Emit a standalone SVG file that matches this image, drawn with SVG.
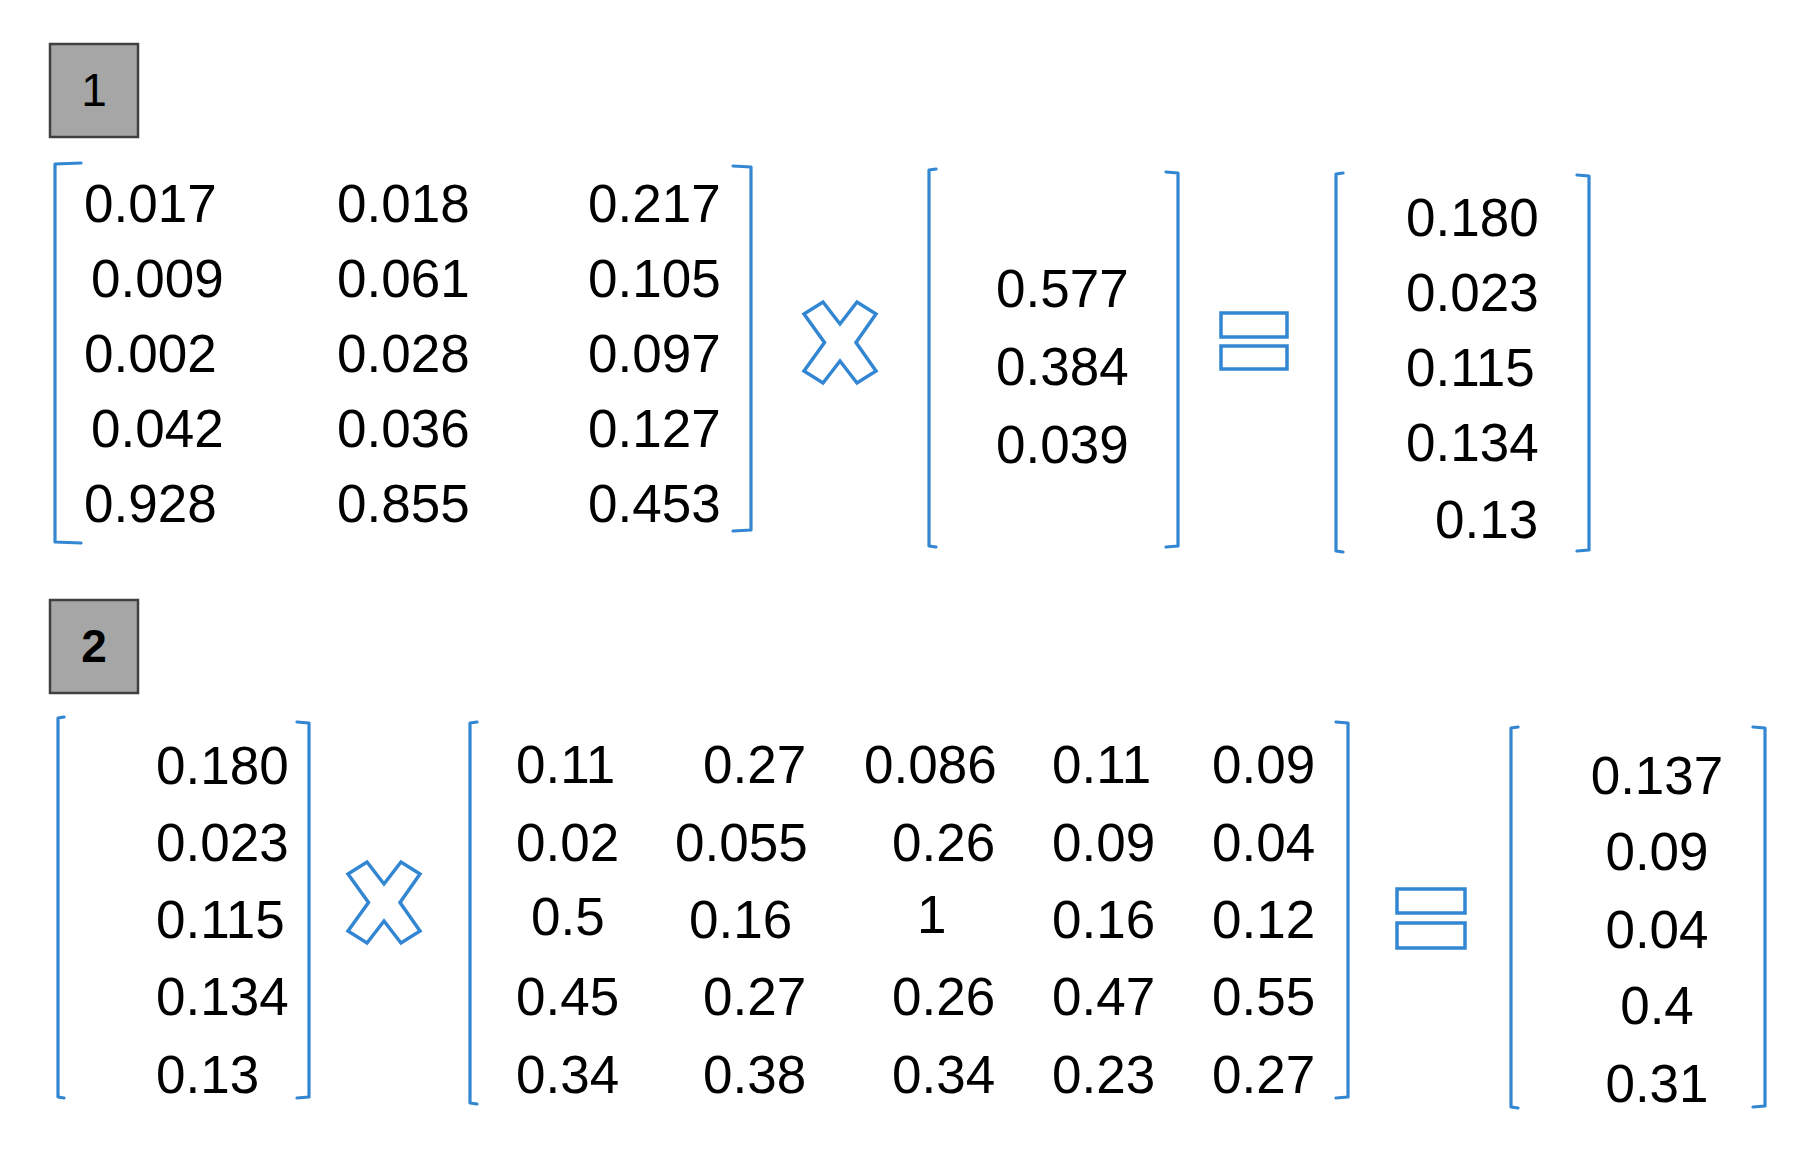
<svg xmlns="http://www.w3.org/2000/svg" width="1809" height="1157" viewBox="0 0 1809 1157">
<style>
.num{font-family:"Liberation Sans",Arial,sans-serif;font-size:53px;fill:#000}
.box{fill:#a6a6a6;stroke:#404040;stroke-width:2.5}
.lbl{font-family:"Liberation Sans",Arial,sans-serif;font-size:46px;fill:#000;text-anchor:middle}
.br{fill:none;stroke:#3286d2;stroke-width:3.2;stroke-linejoin:round;stroke-linecap:round}
.op{fill:#fff;stroke:#3286d2;stroke-width:3.5;stroke-linejoin:miter}
</style>
<rect width="1809" height="1157" fill="#fff"/>

<g id="label1"><rect class="box" x="50" y="44" width="88" height="93"/><text class="lbl" x="94" y="106">1</text></g>
<g id="label2"><rect class="box" x="50" y="600" width="88" height="93"/><text class="lbl" x="94" y="662" font-weight="bold">2</text></g>

<g id="connectors">
<path class="br" d="M81,163 L55,164 L55,542 L81,543"/>
<path class="br" d="M733,166 L751,167 L751,530 L733,531"/>
<path class="br" d="M936,169 L929,170 L929,546 L936,547"/>
<path class="br" d="M1166,172 L1178,173 L1178,546 L1166,547"/>
<path class="br" d="M1343,173 L1336,174 L1336,551 L1343,552"/>
<path class="br" d="M1577,175 L1589,176 L1589,550 L1577,551"/>
<path class="br" d="M64,717 L58,718 L58,1097 L64,1098"/>
<path class="br" d="M297,722 L309,723 L309,1097 L297,1098"/>
<path class="br" d="M477,722 L470,723 L470,1103 L477,1104"/>
<path class="br" d="M1336,722 L1348,723 L1348,1097 L1336,1098"/>
<path class="br" d="M1518,727 L1511,728 L1511,1107 L1518,1108"/>
<path class="br" d="M1753,727 L1765,728 L1765,1106 L1753,1107"/>
</g>

<g id="times1"><polygon class="op" points="804,314 823,302 840,324 857,302 876,314 856,342.5 876,371 857,383 840,361 823,383 804,371 824.5,342.5"/></g>
<g id="equals1"><rect class="op" x="1221" y="313" width="66" height="24"/><rect class="op" x="1221" y="346" width="66" height="23"/></g>
<g id="times2"><polygon class="op" points="348,874 367,862 384,884 401,862 420,874 400,902.5 420,931 401,943 384,921 367,943 348,931 368.5,902.5"/></g>
<g id="equals2"><rect class="op" x="1397" y="889" width="68" height="24"/><rect class="op" x="1397" y="923" width="68" height="25"/></g>

<g id="matrixA" class="num">
<text x="84" y="222">0.017</text><text x="337" y="222">0.018</text><text x="588" y="222">0.217</text>
<text x="91" y="297">0.009</text><text x="337" y="297">0.061</text><text x="588" y="297">0.105</text>
<text x="84" y="372">0.002</text><text x="337" y="372">0.028</text><text x="588" y="372">0.097</text>
<text x="91" y="447">0.042</text><text x="337" y="447">0.036</text><text x="588" y="447">0.127</text>
<text x="84" y="522">0.928</text><text x="337" y="522">0.855</text><text x="588" y="522">0.453</text>
</g>

<g id="vectorB" class="num">
<text x="996" y="307">0.577</text>
<text x="996" y="385">0.384</text>
<text x="996" y="463">0.039</text>
</g>

<g id="resultC" class="num">
<text x="1406" y="236">0.180</text>
<text x="1406" y="311">0.023</text>
<text x="1406" y="386">0.115</text>
<text x="1406" y="461">0.134</text>
<text x="1435" y="538">0.13</text>
</g>

<g id="vectorD" class="num">
<text x="156" y="784">0.180</text>
<text x="156" y="861">0.023</text>
<text x="156" y="938">0.115</text>
<text x="156" y="1015">0.134</text>
<text x="156" y="1093">0.13</text>
</g>

<g id="matrixE" class="num">
<text x="516" y="783">0.11</text><text x="703" y="783">0.27</text><text x="864" y="783">0.086</text><text x="1052" y="783">0.11</text><text x="1212" y="783">0.09</text>
<text x="516" y="861">0.02</text><text x="675" y="861">0.055</text><text x="892" y="861">0.26</text><text x="1052" y="861">0.09</text><text x="1212" y="861">0.04</text>
<text x="531" y="935">0.5</text><text x="689" y="938">0.16</text><text x="917" y="933">1</text><text x="1052" y="938">0.16</text><text x="1212" y="938">0.12</text>
<text x="516" y="1015">0.45</text><text x="703" y="1015">0.27</text><text x="892" y="1015">0.26</text><text x="1052" y="1015">0.47</text><text x="1212" y="1015">0.55</text>
<text x="516" y="1093">0.34</text><text x="703" y="1093">0.38</text><text x="892" y="1093">0.34</text><text x="1052" y="1093">0.23</text><text x="1212" y="1093">0.27</text>
</g>

<g id="resultF" class="num" text-anchor="middle">
<text x="1657" y="794">0.137</text>
<text x="1657" y="870">0.09</text>
<text x="1657" y="948">0.04</text>
<text x="1657" y="1024">0.4</text>
<text x="1657" y="1102">0.31</text>
</g>
</svg>
